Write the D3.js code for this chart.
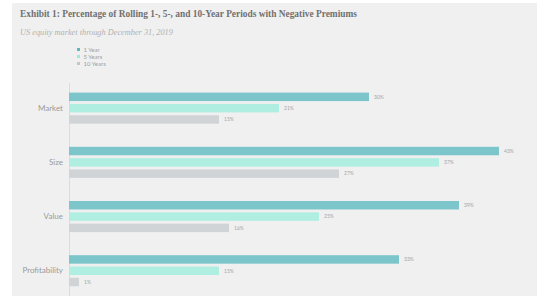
<!DOCTYPE html>
<html>
<head>
<meta charset="utf-8">
<script src="https://cdn.jsdelivr.net/npm/d3@7"></script>
<style>
  body { margin: 0; background: #fff; }
  svg { display: block; }
</style>
</head>
<body>
<div id="chart"></div>
<script>
const WIDTH = 537, HEIGHT = 296;

// data
const categories = ['Market', 'Size', 'Value', 'Profitability'];
const seriesNames = ['1 Year', '5 Years', '10 Years'];
const oneYear = [30, 43, 39, 33];
const fiveYears = [21, 37, 25, 15];
const tenYears = [15, 27, 16, 1];
const seriesValues = [oneYear, fiveYears, tenYears];
const colors = ['#7cc6cb', '#b0eee2', '#d1d4d6'];
const legendColors = ['#5fb8bf', '#9fe9da', '#c4c7c9'];

const svg = d3.select('#chart')
  .append('svg')
    .attr('width', WIDTH)
    .attr('height', HEIGHT);

// panel
svg.append('rect')
  .attr('x', 12)
  .attr('y', 3)
  .attr('width', WIDTH - 12)
  .attr('height', HEIGHT - 3)
  .attr('fill', '#f0f0f0');

svg.append('text')
  .attr('x', 20)
  .attr('y', 17)
  .text('Exhibit 1: Percentage of Rolling 1-, 5-, and 10-Year Periods with Negative Premiums')
  .attr('style', 'font-family: "Liberation Serif"; font-size: 9.4px; fill: #707070; font-weight: 700');

svg.append('text')
  .attr('x', 20)
  .attr('y', 35)
  .text('US equity market through December 31, 2019')
  .attr('style', 'font-family: "Liberation Serif"; font-size: 8.3px; font-style: italic; fill: #b0b0b0');

// legend
const legend = svg.append('g').attr('transform', 'translate(77, 49.5)');
seriesNames.forEach((name, i) => {
  legend.append('rect')
    .attr('x', 0)
    .attr('y', i * 7 - 1.5)
    .attr('width', 3)
    .attr('height', 3)
    .attr('fill', legendColors[i]);
  legend.append('text')
    .attr('x', 6.5)
    .attr('y', i * 7 + 2)
    .text(name)
    .attr('style', 'font-family: Lato; font-size: 6px; fill: #a0a0a0');
});

// scales
const x = d3.scaleLinear().domain([0, 45]).range([69, 519]);
const y = d3.scaleBand().domain(categories).range([81, 297.8]).padding(0);
const inner = d3.scaleBand().domain(seriesNames).range([-15.5, 15.6]).paddingInner(0.25).paddingOuter(0);

svg.append('line')
  .attr('x1', x(0) + 0.5)
  .attr('x2', x(0) + 0.5)
  .attr('y1', 83)
  .attr('y2', HEIGHT)
  .attr('stroke', '#dcdcdc')
  .attr('stroke-width', 1);

const groups = svg.selectAll('.cat')
  .data(categories)
  .enter()
  .append('g')
    .attr('class', 'cat')
    .attr('transform', d => `translate(0, ${y(d) + y.bandwidth() / 2})`);

groups.append('text')
  .attr('x', 63)
  .attr('y', 2.7)
  .attr('text-anchor', 'end')
  .text(d => d)
  .attr('style', 'font-family: Lato; font-size: 8px; fill: #9a9a9a');

groups.each(function(cat, ci) {
  const g = d3.select(this);
  seriesNames.forEach((s, si) => {
    const v = seriesValues[si][ci];
    g.append('rect')
      .attr('x', x(0))
      .attr('y', inner(s))
      .attr('width', x(v) - x(0))
      .attr('height', inner.bandwidth())
      .attr('fill', colors[si]);
    g.append('text')
      .attr('x', x(v) + 5)
      .attr('y', inner(s) + inner.bandwidth() / 2 + 1.8)
      .text(v + '%')
      .attr('style', 'font-family: Lato; font-size: 5px; fill: #a5a5a5');
  });
});
</script>
</body>
</html>
